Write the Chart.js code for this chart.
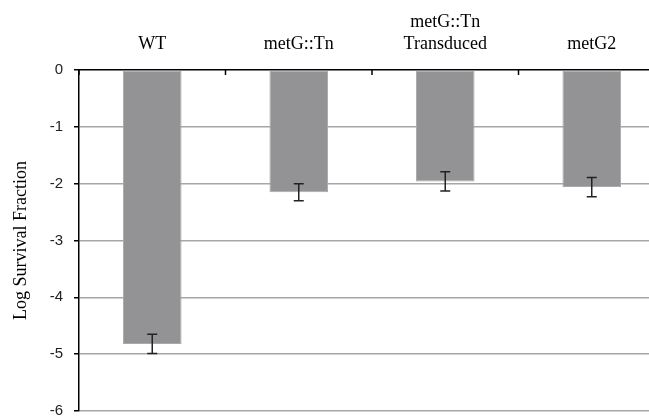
<!DOCTYPE html>
<html>
<head>
<meta charset="utf-8">
<script src="https://cdn.jsdelivr.net/npm/chart.js@4"></script>
<style>
  html, body { margin: 0; padding: 0; background: #fff; overflow: hidden; }
  #wrap { width: 665px; height: 431px; }
</style>
</head>
<body>
<div id="wrap"><canvas id="chart"></canvas></div>
<script>
const categories = ["WT", "metG::Tn", ["metG::Tn", "Transduced"], "metG2"];
const survival = [-4.82, -2.15, -1.96, -2.06];
const errorSize = [0.17, 0.15, 0.17, 0.17];
const yTicks = [0, -1, -2, -3, -4, -5, -6];

// error bars and downward x tick marks
const errorBars = {
  id: "errorBars",
  afterDatasetsDraw(chart) {
    const { ctx, scales: { x, y }, chartArea } = chart;
    ctx.save();
    ctx.strokeStyle = "#222";
    ctx.lineWidth = 1.5;
    survival.forEach((v, i) => {
      const px = x.getPixelForValue(i);
      const top = y.getPixelForValue(v + errorSize[i]);
      const bot = y.getPixelForValue(v - errorSize[i]);
      ctx.beginPath();
      ctx.moveTo(px, top);
      ctx.lineTo(px, bot);
      ctx.moveTo(px - 5, top);
      ctx.lineTo(px + 5, top);
      ctx.moveTo(px - 5, bot);
      ctx.lineTo(px + 5, bot);
      ctx.stroke();
    });
    // category boundary ticks
    ctx.strokeStyle = "#000";
    ctx.lineWidth = 1.5;
    const half = (x.getPixelForValue(1) - x.getPixelForValue(0)) / 2;
    for (let i = 0; i <= categories.length; i++) {
      const bx = x.getPixelForValue(i) - half;
      ctx.beginPath();
      ctx.moveTo(bx, chartArea.top);
      ctx.lineTo(bx, chartArea.top + 5);
      ctx.stroke();
    }
    ctx.restore();
  }
};

new Chart(document.getElementById("chart"), {
  type: "bar",
  data: {
    labels: categories,
    datasets: [
      {
        data: survival,
        backgroundColor: "#939396",
        borderColor: "#a9a9ac",
        borderWidth: 1,
        borderSkipped: false,
        barPercentage: 0.4,
        categoryPercentage: 1,
      },
    ],
  },
  options: {
    responsive: true,
    maintainAspectRatio: false,
    animation: false,
    layout: { padding: 0 },
    scales: {
      x: {
        position: "top",
        grid: { display: false },
        border: { color: "#000", width: 1.5 },
        ticks: {
          color: "#000",
          font: { family: "Liberation Serif", size: 18, lineHeight: 1.25 },
          padding: 6,
          maxRotation: 0,
        },
        afterFit: (s) => { s.height = 70; },
      },
      y: {
        min: -6,
        max: 0,
        afterBuildTicks: (s) => { s.ticks = yTicks.map((v) => ({ value: v })); },
        grid: {
          color: (c) => (c.tick && c.tick.value === 0 ? "rgba(0,0,0,0)" : "#a6a6a6"),
          lineWidth: 1.5,
          tickColor: "#000",
          tickLength: 5,
        },
        border: { color: "#000", width: 1.5 },
        ticks: {
          color: "#222",
          font: { family: "Liberation Sans", size: 15 },
          padding: 11,
        },
        title: {
          display: true,
          text: "Log Survival Fraction",
          color: "#000",
          font: { family: "Liberation Serif", size: 18 },
          padding: { top: 10, bottom: 0 },
        },
        afterFit: (s) => { s.width = 79; },
      },
    },
    plugins: {
      legend: { display: false },
      tooltip: { enabled: false },
    },
  },
  plugins: [errorBars],
});
</script>
</body>
</html>
